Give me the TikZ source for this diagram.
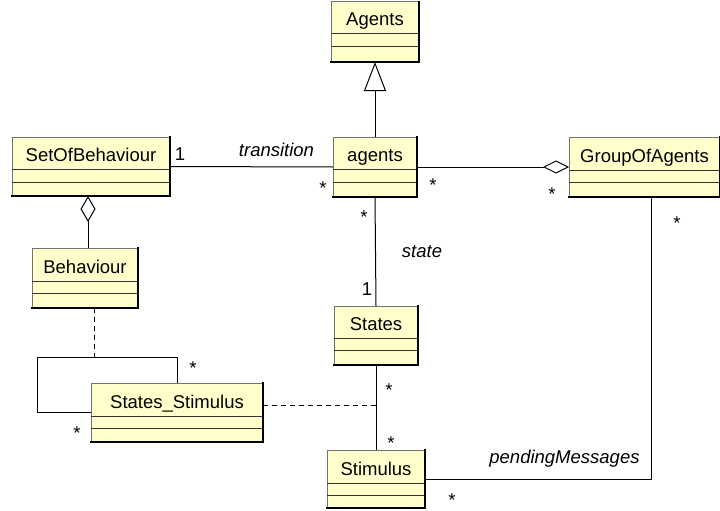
\documentclass[tikz,border=0pt]{standalone}
\usepackage{fontspec}
\setmainfont{Liberation Sans}
\usetikzlibrary{arrows.meta,fit}
\definecolor{classfill}{HTML}{FFFFCC}
\tikzset{
  boxfit/.style={inner sep=0pt, outer sep=0pt},
  lbl/.style={font=\fontsize{18.5}{20}\selectfont, inner sep=0pt, anchor=base},
  ilbl/.style={lbl, font=\fontsize{18.5}{20}\selectfont\itshape},
  conn/.style={line width=1pt, black},
  dep/.style={conn, dash pattern=on 5pt off 4pt},
}
\newcommand\umlclass[8]{%
  \fill[classfill] (#2,#3) rectangle (#4,#5);
  \draw[line width=1pt, black!55] (#2,#5) -- (#2,#3) -- (#4,#3);
  \draw[line width=1pt, black!80] (#2,#6) -- (#4,#6) (#2,#7) -- (#4,#7);
  \draw[line width=2pt, black, line cap=rect] (#2,#5) -- (#4,#5) -- (#4,#3);
  \node[boxfit, fit={(#2,#3) (#4,#5)}] (#1) {};
  \node[lbl] (#1-name) at ({(#2+#4)/2},{#6-8}) {#8};
}
\begin{document}
\begin{tikzpicture}[x=1pt, y=-1pt]
\useasboundingbox[fill=white] (0,0) rectangle (720,511);

\umlclass{Agents}{331}{2}{419}{62}{34}{47}{Agents}
\umlclass{agents}{333}{137}{417}{197}{169}{182}{agents}
\umlclass{goa}{569}{137}{720}{197}{170}{182}{GroupOfAgents}
\umlclass{sob}{12}{137}{170}{196}{169}{182}{SetOfBehaviour}
\umlclass{beh}{32}{248}{138}{308}{281}{293}{Behaviour}
\umlclass{ss}{91}{383}{263}{442}{416}{428}{States\_Stimulus}
\umlclass{states}{334}{306}{418}{365}{338}{350}{States}
\umlclass{stim}{327}{450}{425}{508}{483}{495}{Stimulus}

\coordinate (dx) at (88,0);
\coordinate (gx) at (651,0);
\coordinate (bx) at (94,0);
\coordinate (looptop) at (94,357);
\coordinate (loopl) at (37,357);
\coordinate (assoc) at (377,405);

% generalization
\draw[conn, -{Triangle[open, length=29pt 0, width=22pt 0]}] (agents.north) -- (Agents.south);
% transition
\draw[conn] (sob.east) -- (agents.west);
% aggregation agents - group
\draw[conn, -{Diamond[open, length=26pt 0, width=13pt 0]}] (agents.east) -- (goa.west);
% aggregation behaviour - set
\draw[conn, -{Diamond[open, length=26pt 0, width=15pt 0]}] (dx |- beh.north) -- (dx |- sob.south);
% state
\draw[conn] (agents.south) -- (states.north);
\draw[conn] (states.south) -- (stim.north);
% pendingMessages
\draw[conn] (stim.east) -| (gx |- goa.south);
% self loop
\draw[conn] (ss.north) |- (loopl) |- (ss.west);
% dependencies
\draw[dep] (bx |- beh.south) -- (looptop);
\draw[dep] (ss.east |- assoc) -- (assoc);

% labels
\node[lbl] (m1) at (180,160) {1};
\node[lbl] (m2) at (323,194) {*};
\node[ilbl] (ltrans) at (276.5,156) {transition};
\node[lbl] (m3) at (433,191) {*};
\node[lbl] (m4) at (552,200) {*};
\node[lbl] (m5) at (364,223) {*};
\node[lbl] (m6) at (677,229) {*};
\node[ilbl] (lstate) at (422,257) {state};
\node[lbl] (m7) at (367,295) {1};
\node[lbl] (m8) at (389,396) {*};
\node[lbl] (m9) at (391,449) {*};
\node[lbl] (m10) at (452,506) {*};
\node[ilbl] (lpend) at (564.5,463) {pendingMessages};
\node[lbl] (m11) at (193,374) {*};
\node[lbl] (m12) at (77,439) {*};
\end{tikzpicture}
\end{document}
